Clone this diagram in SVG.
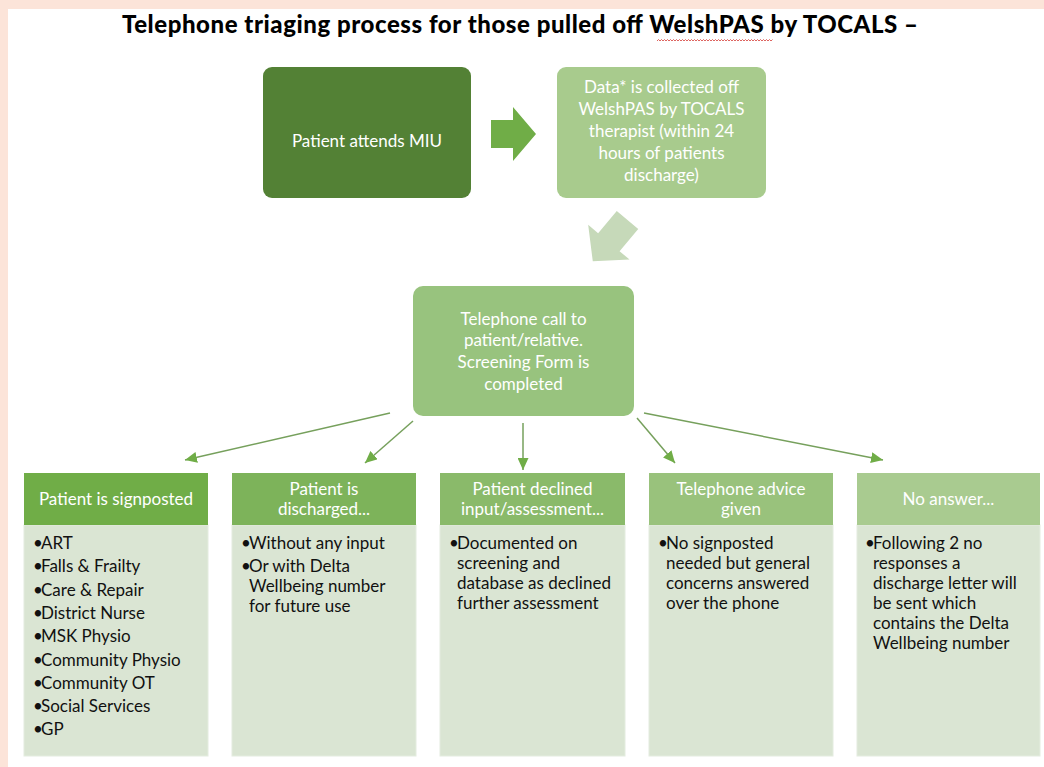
<svg xmlns="http://www.w3.org/2000/svg" width="1044" height="767" viewBox="0 0 1044 767">
<defs>
<marker id="ah" markerUnits="userSpaceOnUse" markerWidth="12" markerHeight="11" refX="12" refY="5.5" orient="auto">
<path d="M0,0 L12,5.5 L0,11 Z" fill="#70ad47"/>
</marker>
<style>
.t{font-family:Lato,"Open Sans","Liberation Sans",sans-serif}
.title{font-size:24px;font-weight:900;fill:#000}
.wt{font-size:17px;fill:#fff;text-anchor:middle}
.hd{font-size:17px;fill:#fff;text-anchor:middle}
.bd{font-size:17px;fill:#111}
.body{fill:#dae5d3;stroke:#e4ecdf;stroke-width:1}
.conn{stroke:#76a05c;stroke-width:1.5;fill:none}
</style>
</defs>
<rect x="0" y="0" width="1044" height="767" fill="#fce4d9"/>
<rect x="8" y="9" width="1036" height="758" fill="#ffffff"/>

<g id="title">
<text class="t title" x="122" y="33" textLength="796">Telephone triaging process for those pulled off WelshPAS by TOCALS –</text>
<polyline points="657,41 658.5,39.5 660,41 661.5,39.5 663,41 664.5,39.5 666,41 667.5,39.5 669,41 670.5,39.5 672,41 673.5,39.5 675,41 676.5,39.5 678,41 679.5,39.5 681,41 682.5,39.5 684,41 685.5,39.5 687,41 688.5,39.5 690,41 691.5,39.5 693,41 694.5,39.5 696,41 697.5,39.5 699,41 700.5,39.5 702,41 703.5,39.5 705,41 706.5,39.5 708,41 709.5,39.5 711,41 712.5,39.5 714,41 715.5,39.5 717,41 718.5,39.5 720,41 721.5,39.5 723,41 724.5,39.5 726,41 727.5,39.5 729,41 730.5,39.5 732,41 733.5,39.5 735,41 736.5,39.5 738,41 739.5,39.5 741,41 742.5,39.5 744,41 745.5,39.5 747,41 748.5,39.5 750,41 751.5,39.5 753,41 754.5,39.5 756,41 757.5,39.5 759,41 760.5,39.5 762,41 763.5,39.5 765,41 766.5,39.5 768,41 769.5,39.5 771,41 772.5,39.5" fill="none" stroke="#d9534f" stroke-width="0.9"/>
</g>

<g id="node-attends">
<rect x="263" y="67" width="208" height="131" rx="9" fill="#538135"/>
<text class="t wt" x="367" y="147">Patient attends MIU</text>
</g>

<g id="node-data">
<rect x="557" y="67" width="209" height="131" rx="9" fill="#a8cb8d"/>
<text class="t wt" x="661.5" y="92.5">Data* is collected off</text>
<text class="t wt" x="661.5" y="114.5">WelshPAS by TOCALS</text>
<text class="t wt" x="661.5" y="136.5">therapist (within 24</text>
<text class="t wt" x="661.5" y="158.5">hours of patients</text>
<text class="t wt" x="661.5" y="180.5">discharge)</text>
</g>

<g id="node-call">
<rect x="413" y="286" width="221" height="130" rx="10" fill="#98c37e"/>
<text class="t wt" x="523.5" y="324.5">Telephone call to</text>
<text class="t wt" x="523.5" y="346">patient/relative.</text>
<text class="t wt" x="523.5" y="368">Screening Form is</text>
<text class="t wt" x="523.5" y="389.5">completed</text>
</g>

<g id="connectors">
<polygon points="491,120 513,120 513,107 536,134 513,161 513,148 491,148" fill="#70ad47"/>
<polygon points="0,-14 29,-14 29,-27 54,0 29,27 29,14 0,14" transform="translate(627.5,220) rotate(130)" fill="#c6d9b9"/>
<line class="conn" x1="390" y1="413" x2="185" y2="460" marker-end="url(#ah)"/>
<line class="conn" x1="413" y1="421" x2="365" y2="463" marker-end="url(#ah)"/>
<line class="conn" x1="523" y1="423" x2="523" y2="470" marker-end="url(#ah)"/>
<line class="conn" x1="637" y1="418" x2="675" y2="463" marker-end="url(#ah)"/>
<line class="conn" x1="644" y1="413" x2="883" y2="460" marker-end="url(#ah)"/>
</g>

<g id="node-signposted">
<rect class="body" x="24" y="525" width="184" height="231"/>
<rect x="24" y="473" width="184" height="52" fill="#70ad47"/>
<text class="t hd" x="116" y="505">Patient is signposted</text>
<text class="t bd" x="33" y="549">•</text><text class="t bd" x="41" y="549">ART</text>
<text class="t bd" x="33" y="572.3">•</text><text class="t bd" x="41" y="572.3">Falls &amp; Frailty</text>
<text class="t bd" x="33" y="595.6">•</text><text class="t bd" x="41" y="595.6">Care &amp; Repair</text>
<text class="t bd" x="33" y="618.9">•</text><text class="t bd" x="41" y="618.9">District Nurse</text>
<text class="t bd" x="33" y="642.2">•</text><text class="t bd" x="41" y="642.2">MSK Physio</text>
<text class="t bd" x="33" y="665.5">•</text><text class="t bd" x="41" y="665.5">Community Physio</text>
<text class="t bd" x="33" y="688.8">•</text><text class="t bd" x="41" y="688.8">Community OT</text>
<text class="t bd" x="33" y="712.1">•</text><text class="t bd" x="41" y="712.1">Social Services</text>
<text class="t bd" x="33" y="735.4">•</text><text class="t bd" x="41" y="735.4">GP</text>
</g>

<g id="node-discharged">
<rect class="body" x="232" y="525" width="184" height="231"/>
<rect x="232" y="473" width="184" height="52" fill="#7db35a"/>
<text class="t hd" x="324" y="495">Patient is</text>
<text class="t hd" x="324" y="515">discharged...</text>
<text class="t bd" x="241" y="549">•</text><text class="t bd" x="249" y="549">Without any input</text>
<text class="t bd" x="241" y="572.3">•</text><text class="t bd" x="249" y="572.3">Or with Delta</text>
<text class="t bd" x="249" y="592.3">Wellbeing number</text>
<text class="t bd" x="249" y="612.3">for future use</text>
</g>

<g id="node-declined">
<rect class="body" x="440" y="525" width="185" height="231"/>
<rect x="440" y="473" width="185" height="52" fill="#8aba6a"/>
<text class="t hd" x="532.5" y="495">Patient declined</text>
<text class="t hd" x="532.5" y="515">input/assessment...</text>
<text class="t bd" x="449" y="549">•</text><text class="t bd" x="457" y="549">Documented on</text>
<text class="t bd" x="457" y="569">screening and</text>
<text class="t bd" x="457" y="589">database as declined</text>
<text class="t bd" x="457" y="609">further assessment</text>
</g>

<g id="node-advice">
<rect class="body" x="649" y="525" width="184" height="231"/>
<rect x="649" y="473" width="184" height="52" fill="#99c27c"/>
<text class="t hd" x="741" y="495">Telephone advice</text>
<text class="t hd" x="741" y="515">given</text>
<text class="t bd" x="658" y="549">•</text><text class="t bd" x="666" y="549">No signposted</text>
<text class="t bd" x="666" y="569">needed but general</text>
<text class="t bd" x="666" y="589">concerns answered</text>
<text class="t bd" x="666" y="609">over the phone</text>
</g>

<g id="node-noanswer">
<rect class="body" x="857" y="525" width="183" height="231"/>
<rect x="857" y="473" width="183" height="52" fill="#a9cb90"/>
<text class="t hd" x="948.5" y="505">No answer...</text>
<text class="t bd" x="865" y="549">•</text><text class="t bd" x="873" y="549">Following 2 no</text>
<text class="t bd" x="873" y="569">responses a</text>
<text class="t bd" x="873" y="589">discharge letter will</text>
<text class="t bd" x="873" y="609">be sent which</text>
<text class="t bd" x="873" y="629">contains the Delta</text>
<text class="t bd" x="873" y="649">Wellbeing number</text>
</g>
</svg>
